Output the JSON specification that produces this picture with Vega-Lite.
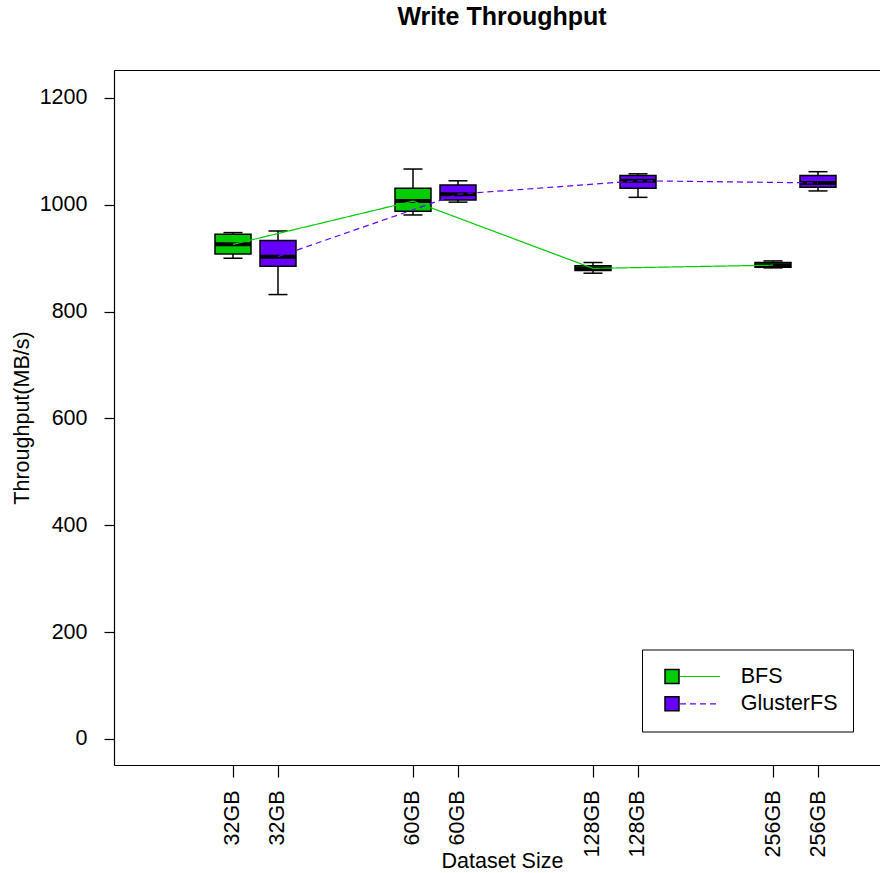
{
  "$schema": "https://vega.github.io/schema/vega-lite/v6.json",
  "width": 766,
  "height": 695,
  "autosize": "none",
  "padding": {"left": 114, "top": 70, "right": 0, "bottom": 108},
  "background": "white",
  "title": {"text": "Write Throughput", "fontSize": 25, "fontWeight": "bold", "font": "Liberation Sans", "color": "black", "anchor": "middle", "dx": 5, "offset": 20, "baseline": "alphabetic"},
  "data": {"values": [
    {"fs": "BFS", "size": "32GB", "gb": 32, "key": "BFS 32GB", "lower": 900, "q1": 908, "median": 926, "q3": 945, "upper": 948},
    {"fs": "GlusterFS", "size": "32GB", "gb": 32, "key": "GlusterFS 32GB", "lower": 832, "q1": 885, "median": 903, "q3": 933, "upper": 951},
    {"fs": "BFS", "size": "60GB", "gb": 60, "key": "BFS 60GB", "lower": 981, "q1": 988, "median": 1007, "q3": 1031, "upper": 1067},
    {"fs": "GlusterFS", "size": "60GB", "gb": 60, "key": "GlusterFS 60GB", "lower": 1005, "q1": 1009, "median": 1020, "q3": 1037, "upper": 1045},
    {"fs": "BFS", "size": "128GB", "gb": 128, "key": "BFS 128GB", "lower": 872, "q1": 877, "median": 881, "q3": 886, "upper": 892},
    {"fs": "GlusterFS", "size": "128GB", "gb": 128, "key": "GlusterFS 128GB", "lower": 1014, "q1": 1031, "median": 1045, "q3": 1055, "upper": 1058},
    {"fs": "BFS", "size": "256GB", "gb": 256, "key": "BFS 256GB", "lower": 882, "q1": 883, "median": 887, "q3": 892, "upper": 895},
    {"fs": "GlusterFS", "size": "256GB", "gb": 256, "key": "GlusterFS 256GB", "lower": 1026, "q1": 1033, "median": 1041, "q3": 1055, "upper": 1062}
  ]},
  "resolve": {"axis": {"x": "independent"}},
  "layer": [
    {
      "mark": {"type": "rule", "color": "black", "strokeWidth": 1.5},
      "encoding": {
        "x": {"field": "key", "type": "nominal",
          "scale": {"type": "point", "domain": ["l1", "l2", "BFS 32GB", "GlusterFS 32GB", "g1", "g2", "BFS 60GB", "GlusterFS 60GB", "g3", "g4", "BFS 128GB", "GlusterFS 128GB", "g5", "g6", "BFS 256GB", "GlusterFS 256GB", "r1"], "padding": 0.511, "align": 0.6304},
          "axis": {"orient": "top", "labels": false, "ticks": false, "title": null, "domain": true, "domainColor": "black", "domainWidth": 1.2, "grid": false}},
        "y": {"field": "lower", "type": "quantitative",
          "scale": {"domain": [-48.7, 1252.4], "nice": false, "zero": false},
          "axis": {"title": "Throughput(MB/s)", "values": [0, 200, 400, 600, 800, 1000, 1200], "format": "d", "grid": false, "tickSize": 10, "tickColor": "black", "tickWidth": 1.2, "domainColor": "black", "domainWidth": 1.2, "labelPadding": 17, "labelFontSize": 21.5, "labelFont": "Liberation Sans", "labelColor": "black", "titleFontSize": 21.5, "titleFont": "Liberation Sans", "titleFontWeight": "normal", "titleColor": "black", "titleX": -86, "titleBaseline": "alphabetic"}},
        "y2": {"field": "upper"}
      }
    },
    {
      "mark": {"type": "tick", "orient": "horizontal", "size": 19, "thickness": 1.5, "color": "black", "opacity": 1},
      "encoding": {
        "x": {"field": "key", "type": "nominal", "axis": null},
        "y": {"field": "lower", "type": "quantitative"}
      }
    },
    {
      "mark": {"type": "tick", "orient": "horizontal", "size": 19, "thickness": 1.5, "color": "black", "opacity": 1},
      "encoding": {
        "x": {"field": "key", "type": "nominal", "axis": null},
        "y": {"field": "upper", "type": "quantitative"}
      }
    },
    {
      "mark": {"type": "bar", "width": 36, "stroke": "black", "strokeWidth": 1.5},
      "encoding": {
        "x": {"field": "key", "type": "nominal",
          "axis": {"orient": "bottom", "values": ["BFS 32GB", "GlusterFS 32GB", "BFS 60GB", "GlusterFS 60GB", "BFS 128GB", "GlusterFS 128GB", "BFS 256GB", "GlusterFS 256GB"], "labelExpr": "split(datum.value, ' ')[1]", "labelAngle": 270, "tickSize": 12, "tickColor": "black", "tickWidth": 1.2, "domainColor": "black", "domainWidth": 1.2, "labelPadding": 13, "labelFontSize": 21.5, "labelFont": "Liberation Sans", "labelColor": "black", "grid": false, "title": "Dataset Size", "titleFontSize": 21.5, "titleFont": "Liberation Sans", "titleFontWeight": "normal", "titleColor": "black", "titleX": 388, "titleY": 102, "titleBaseline": "alphabetic", "titleAlign": "center"}},
        "y": {"field": "q1", "type": "quantitative"},
        "y2": {"field": "q3"},
        "fill": {"field": "fs", "type": "nominal",
          "scale": {"domain": ["BFS", "GlusterFS"], "range": ["#00CD00", "#6600FF"]},
          "legend": {"orient": "none", "legendX": 528, "legendY": 579.5, "title": null, "padding": 15, "symbolType": "square", "symbolSize": 196, "symbolStrokeColor": "black", "symbolStrokeWidth": 1.5, "symbolOffset": 4.25, "symbolOpacity": 1, "labelFontSize": 21.5, "labelFont": "Liberation Sans", "labelExpr": "''", "clipHeight": 24, "rowPadding": 3.3}}
      }
    },
    {
      "mark": {"type": "tick", "orient": "horizontal", "size": 36, "thickness": 4, "color": "black", "opacity": 1},
      "encoding": {
        "x": {"field": "key", "type": "nominal", "axis": null},
        "y": {"field": "median", "type": "quantitative"}
      }
    },
    {
      "mark": {"type": "line", "strokeWidth": 1.2},
      "encoding": {
        "x": {"field": "key", "type": "nominal", "axis": null},
        "y": {"field": "median", "type": "quantitative"},
        "order": {"field": "gb", "type": "quantitative"},
        "stroke": {"field": "fs", "type": "nominal",
          "scale": {"range": ["#00CD00", "#6600FF"]},
          "legend": {"orient": "none", "legendX": 528, "legendY": 579.5, "title": null, "padding": 15, "strokeColor": "black", "symbolType": "M2.45,0H10.45", "symbolSize": 100, "symbolStrokeWidth": 1.2, "labelFontSize": 21.5, "labelFont": "Liberation Sans", "labelColor": "black", "labelOffset": 62.2, "clipHeight": 24, "rowPadding": 3.3}},
        "strokeDash": {"field": "fs", "type": "nominal",
          "scale": {"range": [[1, 0], [6, 4]]},
          "legend": {"orient": "none", "legendX": 528, "legendY": 579.5, "title": null, "padding": 15, "strokeColor": "black", "symbolType": "M2.45,0H10.45", "symbolSize": 100, "symbolStrokeWidth": 1.2, "labelFontSize": 21.5, "labelFont": "Liberation Sans", "labelColor": "black", "labelOffset": 62.2, "clipHeight": 24, "rowPadding": 3.3}}
      }
    }
  ],
  "config": {
    "view": {"stroke": null},
    "axis": {"labelFont": "Liberation Sans", "titleFont": "Liberation Sans", "labelColor": "black", "titleColor": "black", "grid": false},
    "legend": {"labelFont": "Liberation Sans", "labelColor": "black"}
  }
}
